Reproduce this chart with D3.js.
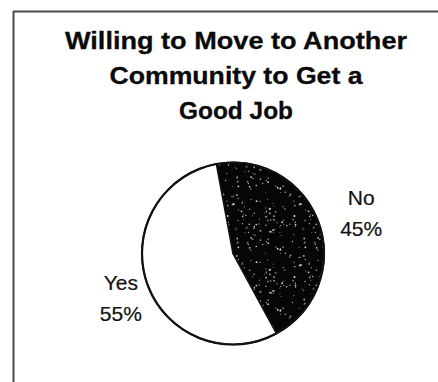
<!DOCTYPE html>
<html>
<head>
<meta charset="utf-8">
<script src="https://cdn.jsdelivr.net/npm/d3@7/dist/d3.min.js"></script>
<style>
  html, body { margin: 0; padding: 0; background: #fff; }
  svg { display: block; }
</style>
</head>
<body>
<script>
// ---- data ----
const categories = ["No", "Yes"];
const values = [45, 55];
const valueLabels = ["45%", "55%"];
const titleLines = ["Willing to Move to Another", "Community to Get a", "Good Job"];

// ---- layout ----
const W = 438, H = 382;
const cx = 233, cy = 253.5, R = 91;
const startDeg = -10.5;
const titleX = 236, titleBase = 49, titleGap = 35;
const titleLengths = [342, 253, 114];
const labelRadius = { No: 136, Yes: 119 };

const svg = d3.select("body").append("svg")
  .attr("width", W).attr("height", H);

// speckle pattern (deterministic)
const defs = svg.append("defs");
const PW = 67, PH = 61;
const pat = defs.append("pattern")
  .attr("id", "speckle").attr("patternUnits", "userSpaceOnUse")
  .attr("x", cx).attr("y", cy)
  .attr("width", PW).attr("height", PH);
pat.append("rect").attr("width", PW).attr("height", PH).attr("fill", "#060606");
let seed = 987654;
function lcg() { seed = (seed * 1103515245 + 12345) % 2147483648; return seed / 2147483648; }
for (let i = 0; i < 115; i++) {
  pat.append("circle")
    .attr("cx", (lcg() * PW).toFixed(2))
    .attr("cy", (lcg() * PH).toFixed(2))
    .attr("r", (0.5 + lcg() * 0.5).toFixed(2))
    .attr("fill", "#fff")
    .attr("opacity", (0.35 + lcg() * 0.5).toFixed(2));
}

// frame (top and left lines)
svg.append("line").attr("x1", 13).attr("x2", W).attr("y1", 11.5).attr("y2", 11.5)
  .attr("stroke", "#4a4a4a").attr("stroke-width", 2);
svg.append("line").attr("x1", 13.5).attr("x2", 13.5).attr("y1", 11).attr("y2", H)
  .attr("stroke", "#4a4a4a").attr("stroke-width", 2);

// title
const title = svg.append("g")
  .attr("font-family", "'Liberation Sans', Arial, sans-serif")
  .attr("font-weight", "bold").attr("font-size", 24).attr("fill", "#0a0a0a")
  .attr("text-anchor", "middle");
titleLines.forEach((t, i) => {
  title.append("text")
    .attr("x", titleX).attr("y", titleBase + i * titleGap)
    .attr("textLength", titleLengths[i]).attr("lengthAdjust", "spacingAndGlyphs")
    .attr("stroke", "#0a0a0a").attr("stroke-width", 0.3)
    .text(t);
});

// pie
const start = startDeg * Math.PI / 180;
const pie = d3.pie().sort(null).value(d => d.value)
  .startAngle(start).endAngle(start + 2 * Math.PI);
const data = categories.map((c, i) => ({ cat: c, value: values[i], label: valueLabels[i] }));
const arcs = pie(data);
const arc = d3.arc().innerRadius(0).outerRadius(R);
const fills = { No: "url(#speckle)", Yes: "#fff" };

const g = svg.append("g").attr("transform", `translate(${cx},${cy})`);
g.selectAll("path.slice").data(arcs).join("path")
  .attr("class", "slice")
  .attr("d", arc)
  .attr("fill", d => fills[d.data.cat])
  .attr("stroke", "#111").attr("stroke-width", 1.6).attr("stroke-linejoin", "round");
g.append("circle").attr("r", R).attr("fill", "none")
  .attr("stroke", "#111").attr("stroke-width", 2.2);

// labels
const lab = g.append("g")
  .attr("font-family", "'Liberation Sans', Arial, sans-serif")
  .attr("font-size", 21).attr("fill", "#111").attr("text-anchor", "middle")
  .attr("stroke", "#111").attr("stroke-width", 0.2);
arcs.forEach(d => {
  const mid = (d.startAngle + d.endAngle) / 2;
  const lr = labelRadius[d.data.cat];
  const x = lr * Math.sin(mid), y = -lr * Math.cos(mid);
  const t = lab.append("text").attr("x", x).attr("y", y - 3.5);
  t.append("tspan").attr("x", x).attr("dy", 0).text(d.data.cat);
  t.append("tspan").attr("x", x).attr("dy", 31.5).text(d.data.label);
});
</script>
</body>
</html>
